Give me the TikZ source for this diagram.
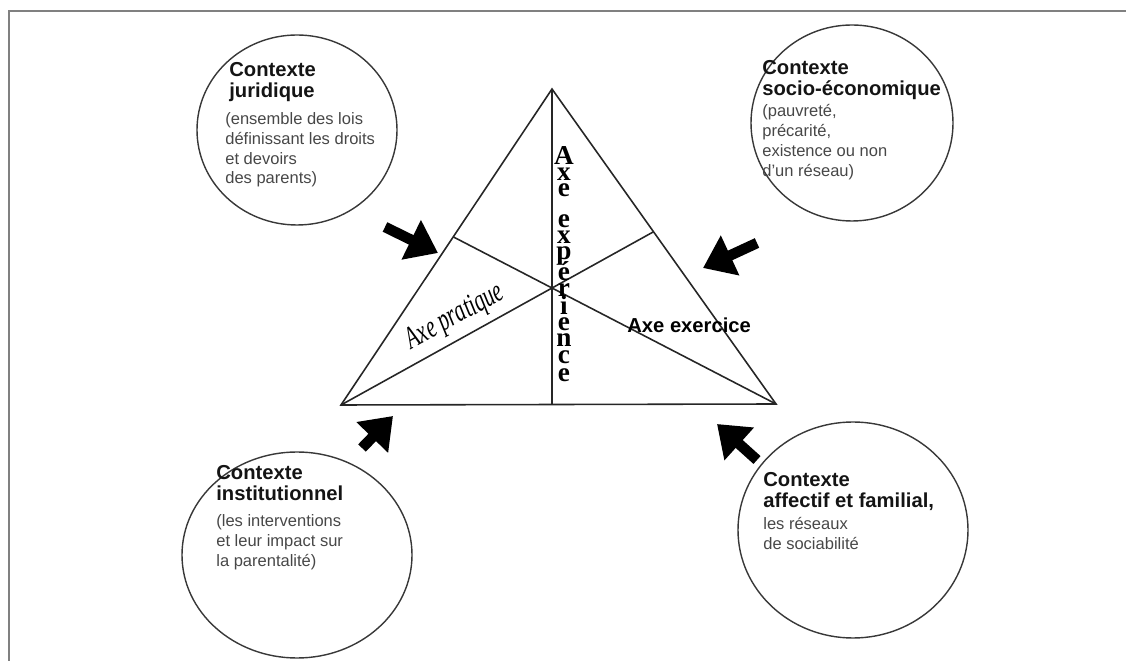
\documentclass[tikz,border=0pt]{standalone}
\usepackage{fontspec}
\setmainfont{Liberation Sans}
\newfontfamily\axeserif{Liberation Serif}
\newfontfamily\axecond[FakeStretch=0.66]{Liberation Serif}
\usetikzlibrary{arrows.meta}
\usetikzlibrary{calc,positioning}

\tikzset{
  ctx/.style={draw=black!78, line width=0.8pt},
  ctxtitle/.style={anchor=north west, inner sep=0pt, align=left, text=black!92,
    font=\bfseries\fontsize{11.5}{11.9}\selectfont},
  ctxbody/.style={anchor=north west, inner sep=0pt, align=left, text=black!72,
    font=\fontsize{9.4}{11.3}\selectfont},
  push/.style={line width=6pt, -{Triangle[length=17pt,width=24pt]}},
  tri/.style={draw=black!85, line width=0.9pt},
}

\begin{document}
\begin{tikzpicture}[x=0.02cm, y=-0.02cm]
    \useasboundingbox (0,0) rectangle (1126,661);
    \draw[black!50, line width=1.4pt] (9,661) -- (9,11) -- (1126,11);

    % triangle
    \coordinate (A) at (341,405);
    \coordinate (B) at (776,404);
    \coordinate (C) at (552,89);
    \coordinate (O) at (552,288);
    \draw[tri] (A) -- (B) -- (C) -- cycle;
    \draw[tri] (C) -- (C |- A) coordinate (foot);
    \draw[tri] (A) -- (intersection of A--O and B--C) coordinate (endA);
    \draw[tri] (B) -- (intersection of B--O and A--C) coordinate (endB);

    \path (A) -- (O) node[pos=0.59, sloped, above=4pt, inner sep=0pt,
        font=\axecond\itshape\fontsize{18}{18}\selectfont] (prat) {Axe pratique};
    \node[anchor=base west, inner sep=0pt, font=\bfseries\fontsize{11.5}{12}\selectfont] (exer) at (627,333) {Axe exercice};
    \foreach \ch/\yy [count=\i] in {A/165,x/181,e/197,e/228,x/244,p/260,é/281,r/297,i/315,e/331,n/347,c/364,e/382}
        \node[anchor=base, inner sep=0pt, font=\axeserif\bfseries\fontsize{15.5}{15.5}\selectfont] (exp\i) at (564,\yy) {\ch};

    % contexts
    \coordinate (jur) at (297,130);
    \coordinate (soc) at (852,123);
    \coordinate (ins) at (297,555);
    \coordinate (aff) at (853,530);
    \draw[ctx] (jur) ellipse [x radius=100, y radius=95];
    \draw[ctx] (soc) ellipse [x radius=101, y radius=98];
    \draw[ctx] (ins) ellipse [x radius=115, y radius=103];
    \draw[ctx] (aff) ellipse [x radius=115, y radius=108];

    \node[ctxtitle] (jurT) at (229,62) {Contexte\\juridique};
    \node[ctxbody] (jurB) at (225,112) {(ensemble des lois\\définissant les droits\\et devoirs\\des parents)};
    \node[ctxtitle] (socT) at (762,60) {Contexte\\socio-économique};
    \node[ctxbody] (socB) at (762,104) {(pauvreté,\\précarité,\\existence ou non\\d'un réseau)};
    \node[ctxtitle] (insT) at (216,465) {Contexte\\institutionnel};
    \node[ctxbody] (insB) at (216,514) {(les interventions\\et leur impact sur\\la parentalité)};
    \node[ctxtitle] (affT) at (763,472) {Contexte\\affectif et familial,};
    \node[ctxbody] (affB) at (763,517) {les réseaux\\de sociabilité};

    % arrows
    \coordinate (jurS) at (385,227); \coordinate (jurE) at (438,253);
    \coordinate (socS) at (757,243); \coordinate (socE) at (703,268);
    \coordinate (insS) at (362,448); \coordinate (insE) at (393,416);
    \coordinate (affS) at (757,460); \coordinate (affE) at (717,424);
    \draw[push] (jurS) -- (jurE);
    \draw[push] (socS) -- (socE);
    \draw[push] (insS) -- (insE);
    \draw[push] (affS) -- (affE);
\end{tikzpicture}
\end{document}
